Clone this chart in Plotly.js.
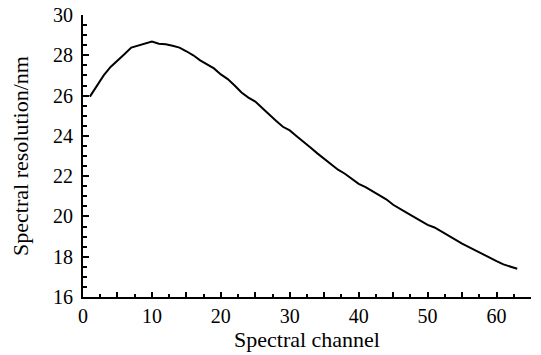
<!DOCTYPE html>
<html>
<head>
<meta charset="utf-8">
<script src="https://cdn.plot.ly/plotly-3.0.1.min.js"></script>
<style>
  html, body { margin: 0; padding: 0; background: #fff; }
  #chart { width: 541px; height: 355px; }
</style>
</head>
<body>
<div id="chart"></div>
<script>
// Spectral channel index
const channels = [];
for (let c = 1; c <= 63; c++) channels.push(c);

// Spectral resolution per channel (nm)
const resolution = [
  25.95, 26.50, 27.00, 27.42, 27.72, 28.05, 28.38, 28.48, 28.58, 28.68,
  28.57, 28.55, 28.47, 28.38, 28.20, 28.00, 27.75, 27.57, 27.35, 27.05,
  26.82, 26.50, 26.15, 25.90, 25.70, 25.38, 25.05, 24.75, 24.45, 24.27,
  23.98, 23.68, 23.42, 23.13, 22.85, 22.56, 22.32, 22.12, 21.88, 21.62,
  21.45, 21.25, 21.08, 20.85, 20.58, 20.40, 20.18, 19.98, 19.78, 19.58,
  19.45, 19.25, 19.02, 18.82, 18.65, 18.48, 18.30, 18.10, 17.95, 17.78,
  17.62, 17.52, 17.40
];

// Axis ticks
const xTickVals = [0, 5, 10, 15, 20, 25, 30, 35, 40, 45, 50, 55, 60, 65];
const xTickText = ['0', '', '10', '', '20', '', '30', '', '40', '', '50', '', '60', ''];
const yTickVals = [16, 18, 20, 22, 24, 26, 28, 30];
const yTickText = ['16', '18', '20', '22', '24', '26', '28', '30'];

const serif = 'Liberation Serif, Times New Roman, serif';
const tickFont = { family: serif, size: 20, color: '#000' };
const titleFont = { family: serif, size: 22, color: '#000' };

const trace = {
  x: channels,
  y: resolution,
  type: 'scatter',
  mode: 'lines',
  line: { color: '#000', width: 2 },
  hoverinfo: 'x+y'
};

const layout = {
  width: 541,
  height: 355,
  margin: { l: 83, r: 10, t: 15, b: 58 },
  paper_bgcolor: '#fff',
  plot_bgcolor: '#fff',
  showlegend: false,
  font: { family: serif, size: 20, color: '#000' },
  xaxis: {
    range: [0, 65],
    tickmode: 'array',
    tickvals: xTickVals,
    ticktext: xTickText,
    ticks: 'inside',
    ticklen: 5,
    tickwidth: 2,
    tickcolor: '#000',
    ticklabelstandoff: 0,
    minor: { dtick: 2.5, tick0: 0, ticks: 'inside', ticklen: 3, tickwidth: 2, tickcolor: '#000', showgrid: false },
    showline: true,
    linecolor: '#000',
    linewidth: 2,
    showgrid: false,
    zeroline: false,
    tickfont: tickFont,
    title: { text: 'Spectral channel', font: titleFont, standoff: 6 }
  },
  yaxis: {
    range: [16, 30],
    tickmode: 'array',
    tickvals: yTickVals,
    ticktext: yTickText,
    ticks: 'inside',
    ticklen: 6,
    tickwidth: 2,
    tickcolor: '#000',
    ticklabelstandoff: 4,
    minor: { dtick: 0.5, tick0: 16, ticks: 'inside', ticklen: 4, tickwidth: 2, tickcolor: '#000', showgrid: false },
    showline: true,
    linecolor: '#000',
    linewidth: 2,
    showgrid: false,
    zeroline: false,
    tickfont: tickFont,
    title: { text: 'Spectral resolution/nm', font: titleFont, standoff: 18 }
  }
};

Plotly.newPlot('chart', [trace], layout, { displayModeBar: false, staticPlot: true });
</script>
</body>
</html>
